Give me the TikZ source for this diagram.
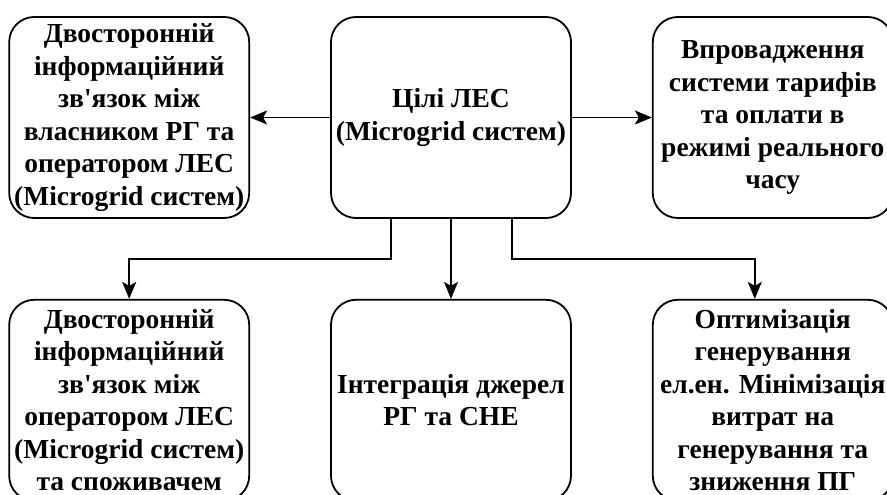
\documentclass[tikz,border=0pt]{standalone}
\usepackage{fontspec}
\setmainfont{Liberation Serif}
\usepackage{tikz}
\usetikzlibrary{arrows.meta,positioning,calc}

\tikzset{
    goalbox/.style={
        draw,
        line width=1.8pt,
        rounded corners=25pt,
        minimum width=240pt,
        minimum height=201pt,
        inner sep=0pt,
        align=center,
        font=\bfseries\fontsize{27.5}{32.5}\selectfont
    },
    link/.style={
        line width=1.8pt,
        -{Stealth[length=17pt,width=14pt,inset=4pt]}
    }
}

\begin{document}
\begin{tikzpicture}
    % central goal
    \node[goalbox] (goal) at (0,0) {Цілі ЛЕС\\(Microgrid систем)};
    \useasboundingbox ($(goal.center)+(-451pt,117.5pt)$) rectangle ($(goal.center)+(436pt,-377.5pt)$);

    % top row
    \node[goalbox, left=80pt of goal] (owner) {
        Двосторонній\\
        інформаційний\\
        зв\textquotesingle язок між\\
        власником РГ та\\
        оператором ЛЕС\\
        (Microgrid систем)
    };
    \node[goalbox, right=80pt of goal] (tariff) {
        Впровадження\\
        системи тарифів\\
        та оплати в\\
        режимі реального\\
        часу
    };

    % bottom row
    \node[goalbox, below=80pt of owner] (consumer) {
        Двосторонній\\
        інформаційний\\
        зв\textquotesingle язок між\\
        оператором ЛЕС\\
        (Microgrid систем)\\
        та споживачем
    };
    \node[goalbox, below=80pt of goal] (storage) {
        Інтеграція джерел\\
        РГ та СНЕ
    };
    \node[goalbox, below=80pt of tariff] (optim) {
        Оптимізація\\
        генерування\\
        ел.ен. Мінімізація\\
        витрат на\\
        генерування та\\
        зниження ПГ
    };

    % connectors
    \draw[link] (goal.west) -- (owner.east);
    \draw[link] (goal.east) -- (tariff.west);
    \draw[link] ([xshift=-60pt]goal.south) -- ++(0,-40pt) -| (consumer.north);
    \draw[link] (goal.south) -- (storage.north);
    \draw[link] ([xshift=61pt]goal.south) -- ++(0,-40pt) -| ([xshift=-18pt]optim.north);
\end{tikzpicture}
\end{document}
